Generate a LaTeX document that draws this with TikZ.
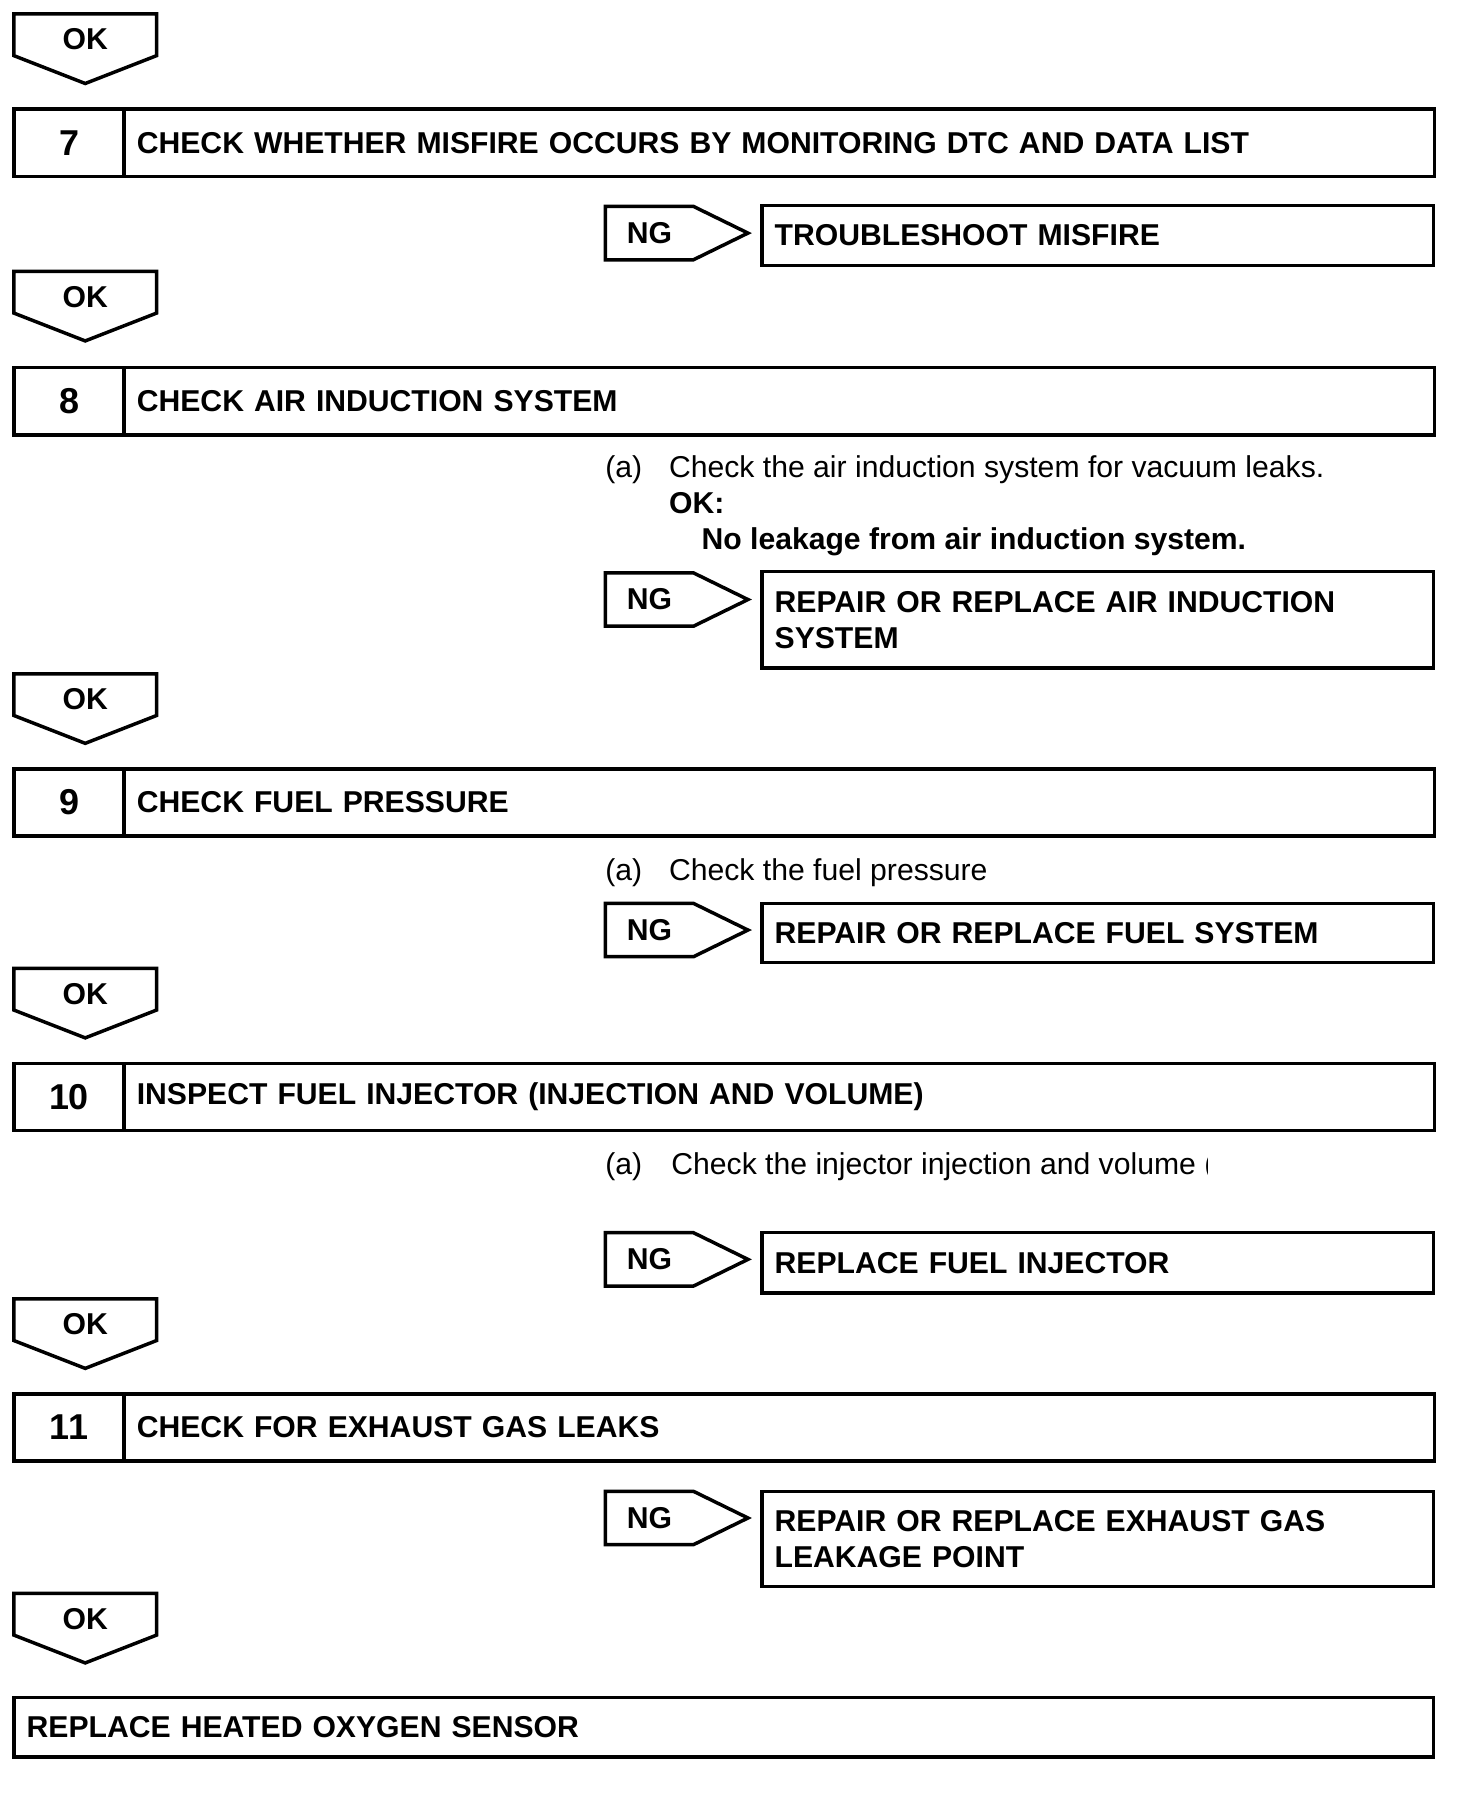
\documentclass[tikz,border=0pt]{standalone}
\usepackage{fontspec}
\setmainfont{Liberation Sans}
\usetikzlibrary{positioning}

\begin{document}
\begin{tikzpicture}[x=1pt, y=-1pt, line width=3pt, outer sep=0pt,
    txt/.style={font=\bfseries\fontsize{26}{31}\selectfont},
    numbox/.style={rectangle, draw, minimum width=95pt, minimum height=58pt, inner sep=0pt, font=\bfseries\fontsize{31}{31}\selectfont},
    stepbox/.style={rectangle, draw, txt, minimum width=1130pt, minimum height=58pt, text width=1108pt, inner xsep=11pt, inner ysep=0pt, align=left},
    resbox/.style={rectangle, draw, txt, minimum width=579pt, text width=557pt, inner xsep=11pt, inner ysep=0pt, align=left, anchor=north west},
    okbody/.style={rectangle, txt, minimum width=123pt, minimum height=36pt, inner sep=0pt, text height=26pt, text depth=0pt, anchor=north west},
    ngbody/.style={rectangle, txt, minimum width=76pt, minimum height=46pt, inner sep=0pt, anchor=north west},
    note/.style={inner sep=0pt, anchor=base west, font=\fontsize{26}{31}\selectfont}]

    \useasboundingbox (0,0) rectangle (1270,1566);

    % OK arrows
    \foreach \n/\y in {7/12, 8/234, 9/581, 10/835, 11/1120, fin/1374} {
        \node[okbody] (ok\n) at (12,\y) {OK};
        \draw (ok\n.north west) -- (ok\n.north east) -- (ok\n.south east) -- ([yshift=-24pt]ok\n.south) -- (ok\n.south west) -- cycle;
    }

    % NG arrows
    \foreach \n/\y in {7/178, 8/494, 9/779, 10/1063, 11/1286} {
        \node[ngbody] (ng\n) at (522,\y) {NG};
        \draw (ng\n.north west) -- (ng\n.north east) -- ([xshift=47pt]ng\n.east) -- (ng\n.south east) -- (ng\n.south west) -- cycle;
    }

    % Step 7
    \node[numbox, anchor=north west] (n7) at (12,94) {7};
    \node[stepbox, right=0pt of n7] (s7) {CHECK WHETHER MISFIRE OCCURS BY MONITORING DTC AND DATA LIST};
    \node[resbox, minimum height=52pt] (r7) at (657,177) {TROUBLESHOOT MISFIRE};

    % Step 8
    \node[numbox, anchor=north west] (n8) at (12,317) {8};
    \node[stepbox, right=0pt of n8] (s8) {CHECK AIR INDUCTION SYSTEM};
    \node[note] (a8) at (522,412) {(a)};
    \node[note] (c8) at (577,412) {Check the air induction system for vacuum leaks.};
    \node[note, font=\bfseries\fontsize{26}{31}\selectfont] (k8) at (577,443) {OK:};
    \node[note, font=\bfseries\fontsize{26}{31}\selectfont] (l8) at (605,474) {No leakage from air induction system.};
    \node[resbox, minimum height=83pt] (r8) at (657,493) {REPAIR OR REPLACE AIR INDUCTION\\SYSTEM};

    % Step 9
    \node[numbox, anchor=north west] (n9) at (12,663) {9};
    \node[stepbox, right=0pt of n9] (s9) {CHECK FUEL PRESSURE};
    \node[note] (a9) at (522,759) {(a)};
    \node[note] (c9) at (577,759) {Check the fuel pressure};
    \node[resbox, minimum height=51pt] (r9) at (657,779) {REPAIR OR REPLACE FUEL SYSTEM};

    % Step 10
    \node[numbox, anchor=north west] (n10) at (12,917) {10};
    \node[stepbox, right=0pt of n10] (s10) {INSPECT FUEL INJECTOR (INJECTION AND VOLUME)};
    \node[note] (a10) at (522,1013) {(a)};
    \begin{scope}
        \clip (570,980) rectangle (1041,1030);
        \node[note] (c10) at (579,1013) {Check the injector injection and volume (};
    \end{scope}
    \node[resbox, minimum height=52pt] (r10) at (657,1063) {REPLACE FUEL INJECTOR};

    % Step 11
    \node[numbox, anchor=north west] (n11) at (12,1202) {11};
    \node[stepbox, right=0pt of n11] (s11) {CHECK FOR EXHAUST GAS LEAKS};
    \node[resbox, minimum height=82pt] (r11) at (657,1286) {REPAIR OR REPLACE EXHAUST GAS\\LEAKAGE POINT};

    % Final
    \node[resbox, minimum width=1224pt, minimum height=51pt, text width=1202pt] (fin) at (12,1464) {REPLACE HEATED OXYGEN SENSOR};
\end{tikzpicture}
\end{document}
